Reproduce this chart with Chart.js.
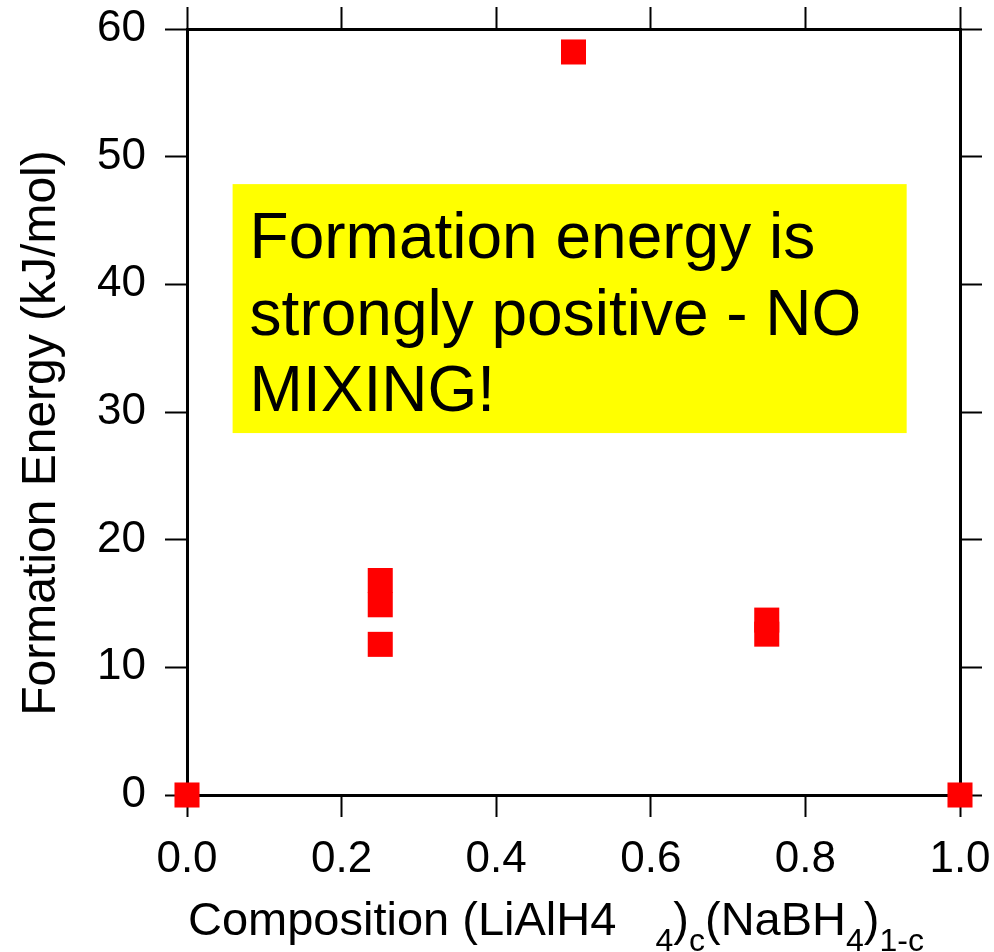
<!DOCTYPE html>
<html lang="en">
<head>
  <meta charset="UTF-8" />
  <title>Formation Energy vs Composition</title>
  <script src="https://cdn.jsdelivr.net/npm/chart.js"></script>
  <style>
    body {
      margin: 0;
      background: #ffffff;
    }
    #chartBox {
      width: 994px;
      height: 952px;
    }
  </style>
</head>
<body>
  <div id="chartBox">
    <canvas id="energyChart" width="994" height="952"></canvas>
  </div>

  <script>
    // data
    const compositions = [0, 0.25, 0.25, 0.25, 0.5, 0.75, 0.75, 1];
    const formationEnergies = [0, 16.8, 14.9, 11.8, 58.2, 13.7, 12.6, 0];

    const xTicks = [0, 0.2, 0.4, 0.6, 0.8, 1.0];
    const yTicks = [0, 10, 20, 30, 40, 50, 60];

    const noteLines = ['Formation energy is', 'strongly positive - NO', 'MIXING!'];
    const yTitle = 'Formation Energy (kJ/mol)';
    // x title pieces, sub = drawn as subscript
    const xTitleParts = [
      { text: 'Composition (LiAlH4   ', sub: false },
      { text: '4', sub: true },
      { text: ')', sub: false },
      { text: 'c', sub: true },
      { text: '(NaBH', sub: false },
      { text: '4', sub: true },
      { text: ')', sub: false },
      { text: '1-c', sub: true }
    ];

    // yellow note, in data units
    const noteBox = { x0: 0.059, x1: 0.931, y0: 28.35, y1: 47.85 };

    const FONT = "'Liberation Sans', Arial, sans-serif";

    const axisBorder = { display: true, color: '#000000', width: 3 };
    const tickMarks = {
      display: true,
      drawOnChartArea: false,
      drawTicks: true,
      tickLength: 22,
      tickWidth: 2,
      tickColor: '#000000'
    };

    function setTicks(values) {
      return scale => { scale.ticks = values.map(v => ({ value: v })); };
    }

    // fixed axis sizes, no extra room for overhanging labels
    function fitTo(size) {
      return s => {
        if (s.isHorizontal()) s.height = size; else s.width = size;
        s.paddingLeft = s.paddingRight = s.paddingTop = s.paddingBottom = 0;
      };
    }

    const extras = {
      id: 'extras',
      beforeDatasetsDraw(chart) {
        const { ctx, scales: { x, y } } = chart;
        const left = x.getPixelForValue(noteBox.x0);
        const right = x.getPixelForValue(noteBox.x1);
        const top = y.getPixelForValue(noteBox.y1);
        const bottom = y.getPixelForValue(noteBox.y0);
        ctx.save();
        ctx.fillStyle = '#ffff00';
        ctx.fillRect(left, top, right - left, bottom - top);
        ctx.fillStyle = '#000000';
        ctx.font = '64px ' + FONT;
        ctx.textBaseline = 'alphabetic';
        ctx.textAlign = 'left';
        noteLines.forEach((line, i) => {
          ctx.fillText(line, left + 17, top + 74 + i * 76.5);
        });
        ctx.restore();
      },
      afterDraw(chart) {
        const { ctx, chartArea } = chart;
        ctx.save();
        ctx.fillStyle = '#000000';
        ctx.textBaseline = 'alphabetic';
        ctx.textAlign = 'left';

        // x axis title with subscripts
        let px = chartArea.left + 1;
        const base = chartArea.bottom + 140;
        xTitleParts.forEach(part => {
          ctx.font = (part.sub ? '32px ' : '47px ') + FONT;
          ctx.fillText(part.text, px, part.sub ? base + 16 : base);
          px += ctx.measureText(part.text).width;
        });

        // y axis title
        ctx.font = '48px ' + FONT;
        ctx.textAlign = 'center';
        ctx.translate(55, (chartArea.top + chartArea.bottom) / 2 + 21);
        ctx.rotate(-Math.PI / 2);
        ctx.fillText(yTitle, 0, 0);
        ctx.restore();
      }
    };

    new Chart(document.getElementById('energyChart'), {
      type: 'scatter',
      data: {
        datasets: [{
          label: 'Formation energy',
          data: compositions.map((c, i) => ({ x: c, y: formationEnergies[i] })),
          clip: false,
          pointStyle: 'rect',
          pointRadius: 17.7,
          pointHoverRadius: 17.7,
          backgroundColor: '#ff0000',
          borderColor: '#ff0000',
          borderWidth: 0
        }]
      },
      options: {
        responsive: false,
        animation: false,
        layout: { padding: 0 },
        plugins: {
          legend: { display: false },
          tooltip: { enabled: false }
        },
        scales: {
          x: {
            type: 'linear',
            position: 'bottom',
            min: 0,
            max: 1,
            afterBuildTicks: setTicks(xTicks),
            afterFit: fitTo(157),
            border: axisBorder,
            grid: tickMarks,
            ticks: {
              padding: 16,
              color: '#000000',
              font: { family: FONT, size: 44 },
              callback: v => v.toFixed(1)
            }
          },
          x2: {
            type: 'linear',
            position: 'top',
            min: 0,
            max: 1,
            afterBuildTicks: setTicks(xTicks),
            afterFit: fitTo(29),
            border: axisBorder,
            grid: tickMarks,
            ticks: { display: false }
          },
          y: {
            type: 'linear',
            position: 'left',
            min: 0,
            max: 60,
            afterBuildTicks: setTicks(yTicks),
            afterFit: fitTo(187),
            border: axisBorder,
            grid: tickMarks,
            ticks: {
              padding: 19,
              color: '#000000',
              font: { family: FONT, size: 44 },
              callback: v => String(v)
            }
          },
          y2: {
            type: 'linear',
            position: 'right',
            min: 0,
            max: 60,
            afterBuildTicks: setTicks(yTicks),
            afterFit: fitTo(34),
            border: axisBorder,
            grid: tickMarks,
            ticks: { display: false }
          }
        }
      },
      plugins: [extras]
    });
  </script>
</body>
</html>
